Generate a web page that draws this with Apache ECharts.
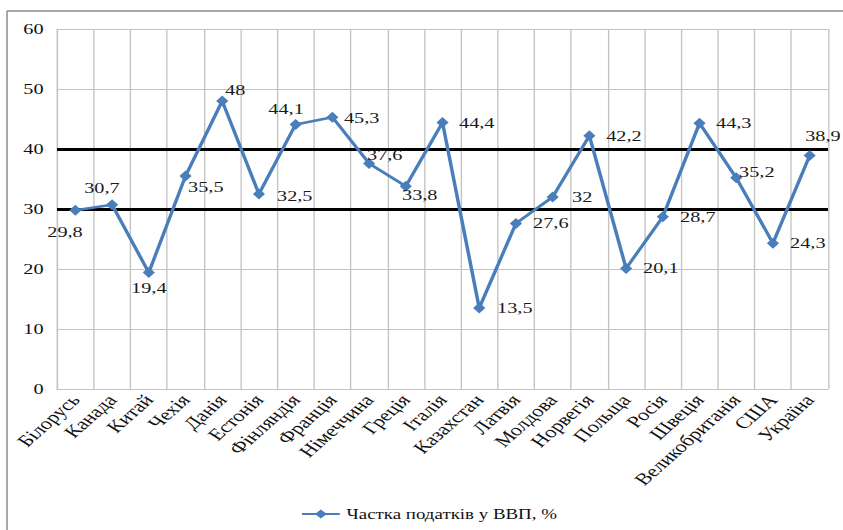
<!DOCTYPE html>
<html>
<head>
<meta charset="utf-8">
<script src="https://cdn.jsdelivr.net/npm/echarts@6/dist/echarts.min.js"></script>
<style>
html,body{margin:0;padding:0;background:#fff;}
#wrap{position:absolute;left:0;top:0;width:843px;height:530px;overflow:hidden;background:#fff;}
#chart{width:624px;height:530px;transform:scaleX(1.351);transform-origin:0 0;}
</style>
</head>
<body>
<div id="wrap"><div id="chart"></div></div>
<script>
const categories = ['Білорусь','Канада','Китай','Чехія','Данія','Естонія','Фінляндія','Франція','Німеччина','Греція','Італія','Казахстан','Латвія','Молдова','Норвегія','Польща','Росія','Швеція','Великобританія','США','Україна'];
const values = [29.8,30.7,19.4,35.5,48,32.5,44.1,45.3,37.6,33.8,44.4,13.5,27.6,32,42.2,20.1,28.7,44.3,35.2,24.3,38.9];
const refLines = [30, 40];
const yTicks = {min: 0, max: 60, interval: 10};
const seriesName = 'Частка податків у ВВП, %';

// label placement per point (style only)
const labelPlace = [
  ['bottom',[-7.7,4]],['top',[-7.5,1]],['bottom',[0,-3]],['right',[-7.6,11]],['right',[-7.4,-11]],
  ['right',[3.9,2]],['top',[-7.1,2.5]],['right',[-0.9,1]],['right',[-11,-8]],['right',[-12.3,9]],
  ['right',[2.7,0]],['right',[3.7,0]],['right',[3.2,0]],['right',[4.9,0]],['right',[2.9,0]],
  ['right',[3.1,0]],['right',[3.3,0]],['right',[2.7,0]],['right',[-7.4,-6]],['right',[3.2,0]],['right',[-12.8,-20]]
];

const FONT = '"Liberation Serif","Times New Roman",serif';
const BLUE = '#4a7ebb';
const GRID = '#c3c3c3';

const chart = echarts.init(document.getElementById('chart'), null, {renderer: 'svg'});
chart.setOption({
  animation: false,
  backgroundColor: '#fff',
  textStyle: {fontFamily: FONT},
  graphic: [
    {type: 'line', shape: {x1: 5.2, y1: 11, x2: 630, y2: 11}, style: {stroke: '#8a8a8a', lineWidth: 1.3}},
    {type: 'line', shape: {x1: 5.2, y1: 11, x2: 5.2, y2: 540}, style: {stroke: '#8a8a8a', lineWidth: 1.1}}
  ],
  grid: {left: 42.2, right: 11.1, top: 29, bottom: 141, containLabel: false},
  legend: {
    left: 217.5, top: 502,
    itemWidth: 28, itemHeight: 11,
    textStyle: {fontFamily: FONT, fontSize: 14, color: '#111'},
    data: [seriesName]
  },
  xAxis: {
    type: 'category',
    data: categories,
    boundaryGap: true,
    axisLine: {show: true, lineStyle: {color: GRID, width: 1}},
    axisTick: {show: false},
    splitLine: {show: true, lineStyle: {color: GRID, width: 1}},
    axisLabel: {rotate: 50, interval: 0, fontFamily: FONT, fontSize: 16.5, color: '#111', margin: 8}
  },
  yAxis: {
    type: 'value',
    min: yTicks.min, max: yTicks.max, interval: yTicks.interval,
    axisLine: {show: true, lineStyle: {color: GRID, width: 1}},
    axisTick: {show: false},
    splitLine: {show: true, lineStyle: {color: GRID, width: 1}},
    axisLabel: {fontFamily: FONT, fontSize: 15, color: '#111', margin: 10}
  },
  series: [{
    name: seriesName,
    type: 'line',
    data: values.map((v, i) => ({
      value: v,
      label: {position: labelPlace[i][0], offset: labelPlace[i][1]}
    })),
    symbol: 'diamond',
    symbolSize: [9, 11],
    itemStyle: {color: BLUE},
    lineStyle: {color: BLUE, width: 2.6},
    label: {
      show: true,
      fontFamily: FONT, fontSize: 15, color: '#1a1a1a',
      formatter: p => String(p.value).replace('.', ',')
    },
    markLine: {
      silent: true,
      symbol: ['none', 'none'],
      label: {show: false},
      lineStyle: {color: '#000', width: 3, type: 'solid'},
      data: refLines.map(v => ({yAxis: v}))
    },
    z: 5
  }]
});
</script>
</body>
</html>
